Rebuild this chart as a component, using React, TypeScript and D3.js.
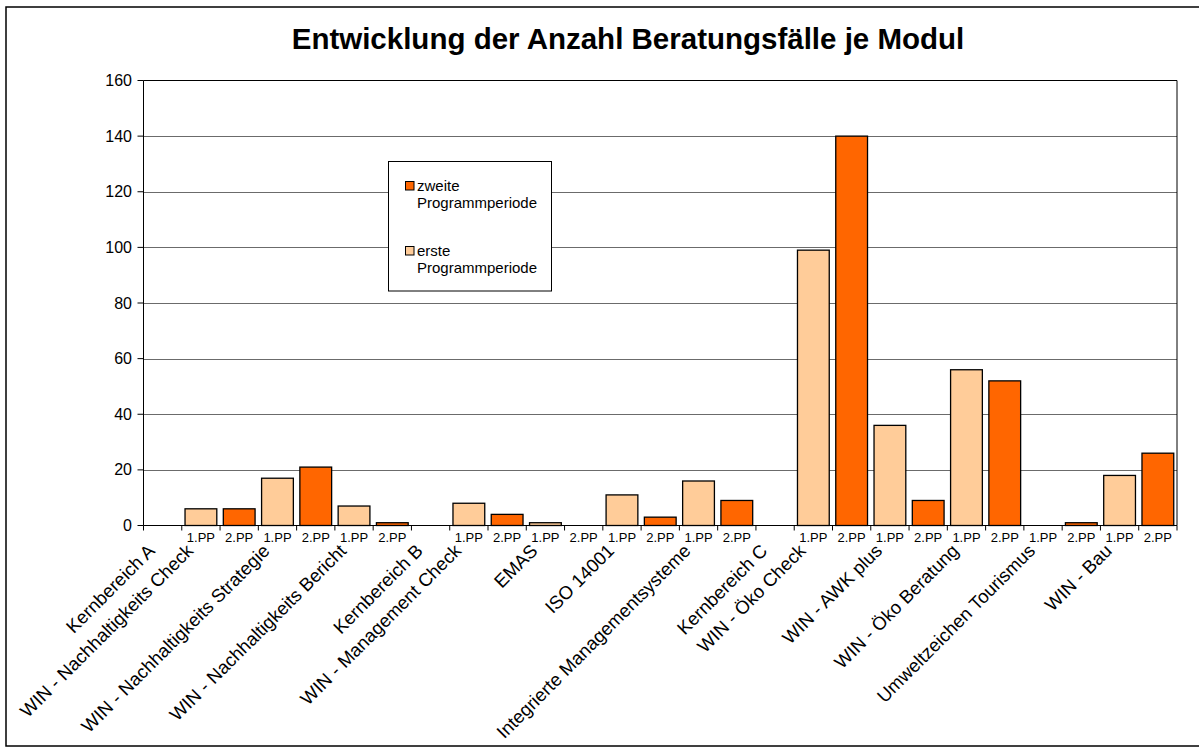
import React from "react";
import * as d3 from "d3";

const groupLabels = [
  "Kernbereich A",
  "WIN - Nachhaltigkeits Check",
  "WIN - Nachhaltigkeits Strategie",
  "WIN - Nachhaltigkeits Bericht",
  "Kernbereich B",
  "WIN - Management Check",
  "EMAS",
  "ISO 14001",
  "Integrierte Managementsysteme",
  "Kernbereich C",
  "WIN - Öko Check",
  "WIN - AWK plus",
  "WIN - Öko Beratung",
  "Umweltzeichen Tourismus",
  "WIN - Bau",
];
// null = header group (Kernbereich) with a single empty slot
const firstPeriod: (number | null)[] = [null, 6, 17, 7, null, 8, 1, 11, 16, null, 99, 36, 56, 0, 18];
const secondPeriod: (number | null)[] = [null, 6, 21, 1, null, 4, 0, 3, 9, null, 140, 9, 52, 1, 26];
const periodLabels = ["1.PP", "2.PP"];
const yTicks = [0, 20, 40, 60, 80, 100, 120, 140, 160];
const title = "Entwicklung der Anzahl Beratungsfälle je Modul";
const legendItems = [
  { lines: ["zweite", "Programmperiode"], key: "second" },
  { lines: ["erste", "Programmperiode"], key: "first" },
];

const COLORS: Record<string, string> = { first: "#FFCC99", second: "#FF6600" };
const FONT = "'Liberation Sans', Arial, Helvetica, sans-serif";

type Slot = { id: string; group: number; label: string; value: number | null; series: string | null };

const slots: Slot[] = [];
groupLabels.forEach((g, gi) => {
  if (firstPeriod[gi] === null) {
    slots.push({ id: `s${slots.length}`, group: gi, label: "", value: null, series: null });
  } else {
    slots.push({ id: `s${slots.length}`, group: gi, label: periodLabels[0], value: firstPeriod[gi], series: "first" });
    slots.push({ id: `s${slots.length}`, group: gi, label: periodLabels[1], value: secondPeriod[gi], series: "second" });
  }
});

export default function App() {
  const W = 1199, H = 747;
  const left = 143.5, right = 1177, top = 80.5, bottom = 525.5;
  const x = d3.scaleBand<string>().domain(slots.map((s) => s.id)).range([left, right]).padding(0);
  const y = d3.scaleLinear().domain([0, 160]).range([bottom, top]);
  const bw = x.bandwidth();
  const barW = bw * 0.83;

  const groupStarts = groupLabels.map((_, gi) => {
    const first = slots.find((s) => s.group === gi)!;
    return x(first.id)!;
  });

  return (
    <svg width={W} height={H} style={{ position: "absolute", left: 0, top: 0, background: "#fff" }} fontFamily={FONT}>
      <rect x={0} y={0} width={W} height={H} fill="#fff" />
      <rect x={6} y={7} width={1200} height={739} fill="none" stroke="#000" strokeWidth={1.5} />
      <text x={628} y={49} textAnchor="middle" fontSize={29.5} fontWeight="bold" fill="#000">
        {title}
      </text>
      {/* gridlines */}
      {yTicks.filter((t) => t > 0 && t < 160).map((t) => (
        <line key={t} x1={left} x2={right} y1={Math.round(y(t)) + 0.5} y2={Math.round(y(t)) + 0.5} stroke="#6b6b6b" strokeWidth={1} />
      ))}
      {/* plot border top/right */}
      <line x1={left} x2={right} y1={top} y2={top} stroke="#000" strokeWidth={1} />
      <line x1={right} x2={right} y1={top} y2={bottom} stroke="#000" strokeWidth={1} />
      {/* bars */}
      {slots.filter((s) => s.value !== null && s.value! > 0).map((s) => (
        <rect
          key={s.id}
          x={x(s.id)! + (bw - barW) / 2}
          y={y(s.value!)}
          width={barW}
          height={bottom - y(s.value!)}
          fill={COLORS[s.series!]}
          stroke="#000"
          strokeWidth={1.3}
        />
      ))}
      {/* y axis */}
      <line x1={left} x2={left} y1={top} y2={bottom} stroke="#000" strokeWidth={1} />
      {yTicks.map((t) => (
        <g key={t}>
          <line x1={left - 6} x2={left} y1={y(t)} y2={y(t)} stroke="#000" strokeWidth={1} />
          <text x={132} y={y(t)} dy="0.35em" textAnchor="end" fontSize={16} fill="#000">
            {t}
          </text>
        </g>
      ))}
      {/* x axis */}
      <line x1={left} x2={right} y1={bottom} y2={bottom} stroke="#000" strokeWidth={1} />
      {slots.map((s) => (
        <line key={"t" + s.id} x1={x(s.id)!} x2={x(s.id)!} y1={bottom} y2={bottom + 5} stroke="#000" strokeWidth={1} />
      ))}
      <line x1={right} x2={right} y1={bottom} y2={bottom + 5} stroke="#000" strokeWidth={1} />
      {slots.map((s) => (
        <text key={"l" + s.id} x={x(s.id)! + bw / 2} y={542} textAnchor="middle" fontSize={13} fill="#000">
          {s.label}
        </text>
      ))}
      {groupLabels.map((g, gi) => {
        const ax = groupStarts[gi] + 12.5;
        const ay = 552;
        return (
          <text key={g} x={ax} y={ay} transform={`rotate(-45 ${ax} ${ay})`} textAnchor="end" fontSize={18.5} fill="#000">
            {g}
          </text>
        );
      })}
      {/* legend */}
      <rect x={388.5} y={161.5} width={163} height={129.5} fill="#fff" stroke="#000" strokeWidth={1} />
      {legendItems.map((it, i) => {
        const by = 181 + i * 65;
        return (
          <g key={it.key}>
            <rect x={405.5} y={by + 0.5} width={8.5} height={8.5} fill={COLORS[it.key]} stroke="#000" strokeWidth={1} />
            <text x={417} y={by + 10} fontSize={15} fill="#000">
              {it.lines[0]}
            </text>
            <text x={417} y={by + 27} fontSize={15} fill="#000">
              {it.lines[1]}
            </text>
          </g>
        );
      })}
    </svg>
  );
}
